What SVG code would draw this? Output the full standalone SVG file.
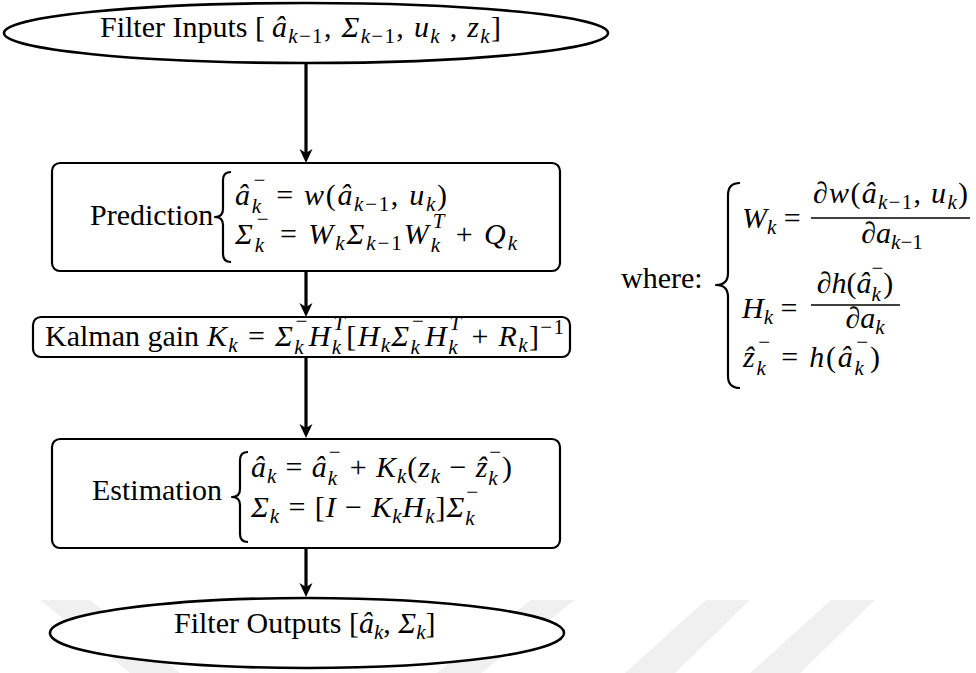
<svg xmlns="http://www.w3.org/2000/svg" width="976" height="673" viewBox="0 0 976 673">
  <style>
    .t { font-family: "Liberation Serif", "Times New Roman", serif; font-size: 30px; fill: #000; }
    .i { font-style: italic; }
    .s { font-size: 21px; }
    .node { fill: #fff; stroke: #000; stroke-width: 2.2; }
    .oval { fill: #fff; stroke: #000; stroke-width: 2.6; }
    .edge { fill: none; stroke: #000; stroke-width: 3.2; marker-end: url(#ah); }
    .brace { fill: none; stroke: #000; stroke-width: 2.2; stroke-linejoin: round; }
    .bar { stroke: #000; stroke-width: 1.4; }
    .wm { fill: #f0f0f0; }
  </style>
  <defs>
    <marker id="ah" viewBox="0 0 14 14" refX="6" refY="7" markerWidth="14" markerHeight="14" markerUnits="userSpaceOnUse" orient="auto">
      <path d="M0,0.5 L14,7 L0,13.5 L4,7 Z" fill="#000"/>
    </marker>
  </defs>

  <rect width="976" height="673" fill="#fff"/>

  <!-- faint background stripes -->
  <g id="backdrop">
    <polygon class="wm" points="40,600 90,600 180,673 130,673"/>
    <polygon class="wm" points="531,600 575,600 481,673 437,673"/>
    <polygon class="wm" points="706,600 750,600 675,673 625,673"/>
    <polygon class="wm" points="831,600 875,600 800,673 750,673"/>
  </g>

  <!-- connectors -->
  <g id="edges">
    <path class="edge" d="M306,63 V155"/>
    <path class="edge" d="M306,272 V309"/>
    <path class="edge" d="M306,357 V430"/>
    <path class="edge" d="M306,549 V589"/>
  </g>

  <g id="inputs">
    <ellipse class="oval" cx="306" cy="33" rx="302" ry="30"/>
    <text class="t" x="100" y="37">Filter Inputs [</text>
    <text class="t" x="272" y="37" textLength="229" lengthAdjust="spacing"><tspan class="i">â</tspan><tspan class="s" dy="6"><tspan class="i">k</tspan>−1</tspan><tspan dy="-6">, </tspan><tspan class="i">Σ</tspan><tspan class="s" dy="6"><tspan class="i">k</tspan>−1</tspan><tspan dy="-6">, </tspan><tspan class="i">u</tspan><tspan class="s i" dy="6">k</tspan><tspan dy="-6"> , </tspan><tspan class="i">z</tspan><tspan class="s i" dy="6">k</tspan><tspan dy="-6">]</tspan></text>
  </g>

  <g id="prediction">
    <rect class="node" x="52" y="163" width="508" height="108" rx="8"/>
    <text class="t" x="90" y="225" font-size="29">Prediction</text>
    <path class="brace" d="M231,172 Q223,172 223,180 V209 Q223,217 215,217 Q223,217 223,225 V254 Q223,262 231,262"/>
    <text class="t" x="235" y="205" textLength="212" lengthAdjust="spacing"><tspan class="i">â</tspan><tspan class="s i" dy="8">k</tspan><tspan class="s" dx="-9.3" dy="-26">−</tspan><tspan dy="18"> = </tspan><tspan class="i">w</tspan>(<tspan class="i">â</tspan><tspan class="s" dy="6"><tspan class="i">k</tspan>−1</tspan><tspan dy="-6">, </tspan><tspan class="i">u</tspan><tspan class="s i" dy="6">k</tspan><tspan dy="-6">)</tspan></text>
    <text class="t" x="235" y="244" textLength="282" lengthAdjust="spacing"><tspan class="i">Σ</tspan><tspan class="s i" dy="8">k</tspan><tspan class="s" dx="-9.3" dy="-26">−</tspan><tspan dy="18"> = </tspan><tspan class="i">W</tspan><tspan class="s i" dy="6">k</tspan><tspan class="i" dy="-6">Σ</tspan><tspan class="s" dy="6"><tspan class="i">k</tspan>−1</tspan><tspan class="i" dy="-6">W</tspan><tspan class="s i" dy="8">k</tspan><tspan class="s i" dx="-9.3" dy="-24">T</tspan><tspan dy="16"> + </tspan><tspan class="i">Q</tspan><tspan class="s i" dy="6">k</tspan></text>
  </g>

  <g id="gain">
    <rect class="node" x="33" y="317" width="537" height="40" rx="8"/>
    <text class="t" x="45" y="346">Kalman gain</text>
    <text class="t" x="207" y="346" textLength="357" lengthAdjust="spacing"><tspan class="i">K</tspan><tspan class="s i" dy="6">k</tspan><tspan dy="-6"> = </tspan><tspan class="i">Σ</tspan><tspan class="s i" dy="8">k</tspan><tspan class="s" dx="-9.3" dy="-26">−</tspan><tspan class="i" dy="18">H</tspan><tspan class="s i" dy="8">k</tspan><tspan class="s i" dx="-9.3" dy="-24">T</tspan><tspan dy="16">[</tspan><tspan class="i">H</tspan><tspan class="s i" dy="6">k</tspan><tspan class="i" dy="-6">Σ</tspan><tspan class="s i" dy="8">k</tspan><tspan class="s" dx="-9.3" dy="-26">−</tspan><tspan class="i" dy="18">H</tspan><tspan class="s i" dy="8">k</tspan><tspan class="s i" dx="-9.3" dy="-24">T</tspan><tspan dy="16"> + </tspan><tspan class="i">R</tspan><tspan class="s i" dy="6">k</tspan><tspan dy="-6">]</tspan><tspan class="s" dy="-12">−1</tspan></text>
  </g>

  <g id="estimation">
    <rect class="node" x="52" y="439" width="508" height="109" rx="8"/>
    <text class="t" x="92" y="500" font-size="29">Estimation</text>
    <path class="brace" d="M248,452 Q240,452 240,460 V489 Q240,497 232,497 Q240,497 240,505 V534 Q240,542 248,542"/>
    <text class="t" x="251" y="477" textLength="261" lengthAdjust="spacing"><tspan class="i">â</tspan><tspan class="s i" dy="6">k</tspan><tspan dy="-6"> = </tspan><tspan class="i">â</tspan><tspan class="s i" dy="8">k</tspan><tspan class="s" dx="-9.3" dy="-26">−</tspan><tspan dy="18"> + </tspan><tspan class="i">K</tspan><tspan class="s i" dy="6">k</tspan><tspan dy="-6">(</tspan><tspan class="i">z</tspan><tspan class="s i" dy="6">k</tspan><tspan dy="-6"> − </tspan><tspan class="i">ẑ</tspan><tspan class="s i" dy="8">k</tspan><tspan class="s" dx="-9.3" dy="-26">−</tspan><tspan dy="18">)</tspan></text>
    <text class="t" x="251" y="517" textLength="227" lengthAdjust="spacing"><tspan class="i">Σ</tspan><tspan class="s i" dy="6">k</tspan><tspan dy="-6"> = [</tspan><tspan class="i">I</tspan> − <tspan class="i">K</tspan><tspan class="s i" dy="6">k</tspan><tspan class="i" dy="-6">H</tspan><tspan class="s i" dy="6">k</tspan><tspan dy="-6">]</tspan><tspan class="i">Σ</tspan><tspan class="s i" dy="8">k</tspan><tspan class="s" dx="-9.3" dy="-26">−</tspan></text>
  </g>

  <g id="outputs">
    <ellipse class="oval" cx="307" cy="633" rx="257" ry="35"/>
    <text class="t" x="174" y="633">Filter Outputs [<tspan class="i">â</tspan><tspan class="s i" dy="6">k</tspan><tspan dy="-6">, </tspan><tspan class="i">Σ</tspan><tspan class="s i" dy="6">k</tspan><tspan dy="-6">]</tspan></text>
  </g>

  <g id="definitions">
    <text class="t" x="621" y="288" font-size="29">where:</text>
    <path class="brace" d="M740,183 Q728,183 728,195 V273 Q728,285 716,285 Q728,285 728,297 V376 Q728,388 740,388"/>
    <!-- W_k -->
    <text class="t" x="742" y="228"><tspan class="i">W</tspan><tspan class="s i" dy="6">k</tspan><tspan dy="-6"> =</tspan></text>
    <text class="t" x="813" y="203" textLength="155" lengthAdjust="spacing"><tspan class="i">∂w</tspan>(<tspan class="i">â</tspan><tspan class="s" dy="6"><tspan class="i">k</tspan>−1</tspan><tspan dy="-6">, </tspan><tspan class="i">u</tspan><tspan class="s i" dy="6">k</tspan><tspan dy="-6">)</tspan></text>
    <line class="bar" x1="811" y1="218" x2="970" y2="218"/>
    <text class="t" x="892" y="243" text-anchor="middle"><tspan class="i">∂a</tspan><tspan class="s" dy="6"><tspan class="i">k</tspan>−1</tspan></text>
    <!-- H_k -->
    <text class="t" x="742" y="318"><tspan class="i">H</tspan><tspan class="s i" dy="6">k</tspan><tspan dy="-6"> =</tspan></text>
    <text class="t" x="855" y="293" text-anchor="middle"><tspan class="i">∂h</tspan>(<tspan class="i">â</tspan><tspan class="s i" dy="8">k</tspan><tspan class="s" dx="-9.3" dy="-26">−</tspan><tspan dy="18">)</tspan></text>
    <line class="bar" x1="811" y1="305" x2="900" y2="305"/>
    <text class="t" x="865" y="328" text-anchor="middle"><tspan class="i">∂a</tspan><tspan class="s i" dy="6">k</tspan></text>
    <!-- z_k -->
    <text class="t" x="743" y="367" textLength="137" lengthAdjust="spacing"><tspan class="i">ẑ</tspan><tspan class="s i" dy="8">k</tspan><tspan class="s" dx="-9.3" dy="-26">−</tspan><tspan dy="18"> = </tspan><tspan class="i">h</tspan>(<tspan class="i">â</tspan><tspan class="s i" dy="8">k</tspan><tspan class="s" dx="-9.3" dy="-26">−</tspan><tspan dy="18">)</tspan></text>
  </g>
</svg>
